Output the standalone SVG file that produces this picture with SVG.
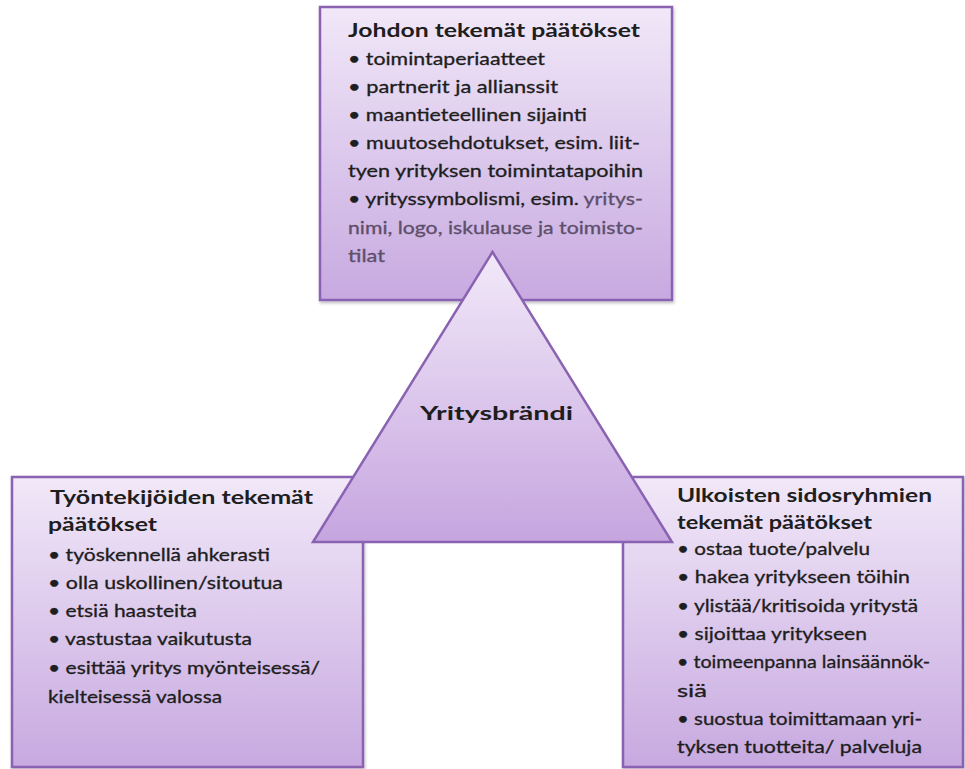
<svg xmlns="http://www.w3.org/2000/svg" width="965" height="769" viewBox="0 0 965 769">
<defs>
<linearGradient id="gBox" x1="0" y1="0" x2="0" y2="1">
<stop offset="0" stop-color="#f1e8f8"/>
<stop offset="1" stop-color="#c7a9e0"/>
</linearGradient>
<linearGradient id="gTri" x1="0" y1="0" x2="0" y2="1">
<stop offset="0" stop-color="#f2e9f9"/>
<stop offset="1" stop-color="#c6a5df"/>
</linearGradient>
<filter id="sh" x="-5%" y="-5%" width="110%" height="110%">
<feDropShadow dx="1" dy="2" stdDeviation="1.5" flood-color="#000" flood-opacity="0.25"/>
</filter>
</defs>
<style>
.box{fill:url(#gBox);stroke:#8a62b2;stroke-width:2.5;filter:url(#sh)}
.tri{fill:url(#gTri);stroke:#8a62b2;stroke-width:2.5;stroke-linejoin:miter}
text{font-family:Lato,"Liberation Sans",sans-serif;fill:#1e1e1e}
.h{font-weight:bold;font-size:19px}
.b{font-size:16.5px;stroke:#1e1e1e;stroke-width:0.3}
.g{fill:#5e4f6b;stroke:#5e4f6b}
</style>
<rect width="965" height="769" fill="#ffffff"/>

<g id="node-top">
<rect class="box" x="320" y="7" width="352" height="293"/>
<text class="h" x="348" y="37" textLength="292" lengthAdjust="spacingAndGlyphs">Johdon tekemät päätökset</text>
<text class="b" x="348" y="65" textLength="197" lengthAdjust="spacingAndGlyphs">• toimintaperiaatteet</text>
<text class="b" x="348" y="93" textLength="210" lengthAdjust="spacingAndGlyphs">• partnerit ja allianssit</text>
<text class="b" x="348" y="121" textLength="239" lengthAdjust="spacingAndGlyphs">• maantieteellinen sijainti</text>
<text class="b" x="348" y="149" textLength="292" lengthAdjust="spacingAndGlyphs">• muutosehdotukset, esim.  liit-</text>
<text class="b" x="348" y="177" textLength="295" lengthAdjust="spacingAndGlyphs">tyen yrityksen  toimintatapoihin</text>
<text class="b" x="348" y="205" textLength="295" lengthAdjust="spacingAndGlyphs">• yrityssymbolismi, esim. <tspan class="g">yritys-</tspan></text>
<text class="b g" x="348" y="234" textLength="295" lengthAdjust="spacingAndGlyphs">nimi, logo, iskulause ja toimisto-</text>
<text class="b g" x="348" y="262" textLength="37" lengthAdjust="spacingAndGlyphs">tilat</text>
</g>

<g id="node-left">
<rect class="box" x="12" y="477" width="351" height="290"/>
<text class="h" x="50" y="504" textLength="263" lengthAdjust="spacingAndGlyphs">Työntekijöiden tekemät</text>
<text class="h" x="48" y="531" textLength="109" lengthAdjust="spacingAndGlyphs">päätökset</text>
<text class="b" x="48" y="561" textLength="222" lengthAdjust="spacingAndGlyphs">• työskennellä ahkerasti</text>
<text class="b" x="48" y="589" textLength="235" lengthAdjust="spacingAndGlyphs">• olla uskollinen/sitoutua</text>
<text class="b" x="48" y="617" textLength="149" lengthAdjust="spacingAndGlyphs">• etsiä haasteita</text>
<text class="b" x="48" y="645" textLength="204" lengthAdjust="spacingAndGlyphs">• vastustaa vaikutusta</text>
<text class="b" x="48" y="674" textLength="272" lengthAdjust="spacingAndGlyphs">• esittää yritys myönteisessä/</text>
<text class="b" x="48" y="703" textLength="174" lengthAdjust="spacingAndGlyphs">kielteisessä valossa</text>
</g>

<g id="node-right">
<rect class="box" x="623" y="477" width="340" height="290"/>
<text class="h" x="677" y="502" textLength="255" lengthAdjust="spacingAndGlyphs">Ulkoisten sidosryhmien</text>
<text class="h" x="677" y="529" textLength="195" lengthAdjust="spacingAndGlyphs">tekemät päätökset</text>
<text class="b" x="677" y="555" textLength="193" lengthAdjust="spacingAndGlyphs">• ostaa tuote/palvelu</text>
<text class="b" x="677" y="583" textLength="233" lengthAdjust="spacingAndGlyphs">• hakea yritykseen töihin</text>
<text class="b" x="677" y="612" textLength="241" lengthAdjust="spacingAndGlyphs">• ylistää/kritisoida yritystä</text>
<text class="b" x="677" y="640" textLength="190" lengthAdjust="spacingAndGlyphs">• sijoittaa yritykseen</text>
<text class="b" x="677" y="668" textLength="253" lengthAdjust="spacingAndGlyphs">• toimeenpanna lainsäännök-</text>
<text class="b" x="677" y="697" textLength="30" lengthAdjust="spacingAndGlyphs">siä</text>
<text class="b" x="677" y="725" textLength="245" lengthAdjust="spacingAndGlyphs">• suostua toimittamaan yri-</text>
<text class="b" x="677" y="753" textLength="245" lengthAdjust="spacingAndGlyphs">tyksen tuotteita/ palveluja</text>
</g>

<g id="node-center">
<polygon class="tri" points="492.5,252 672,542 313,542"/>
<text class="h" x="420" y="420" font-size="21" textLength="153" lengthAdjust="spacingAndGlyphs">Yritysbrändi</text>
</g>

<g id="connectors"></g>
</svg>
